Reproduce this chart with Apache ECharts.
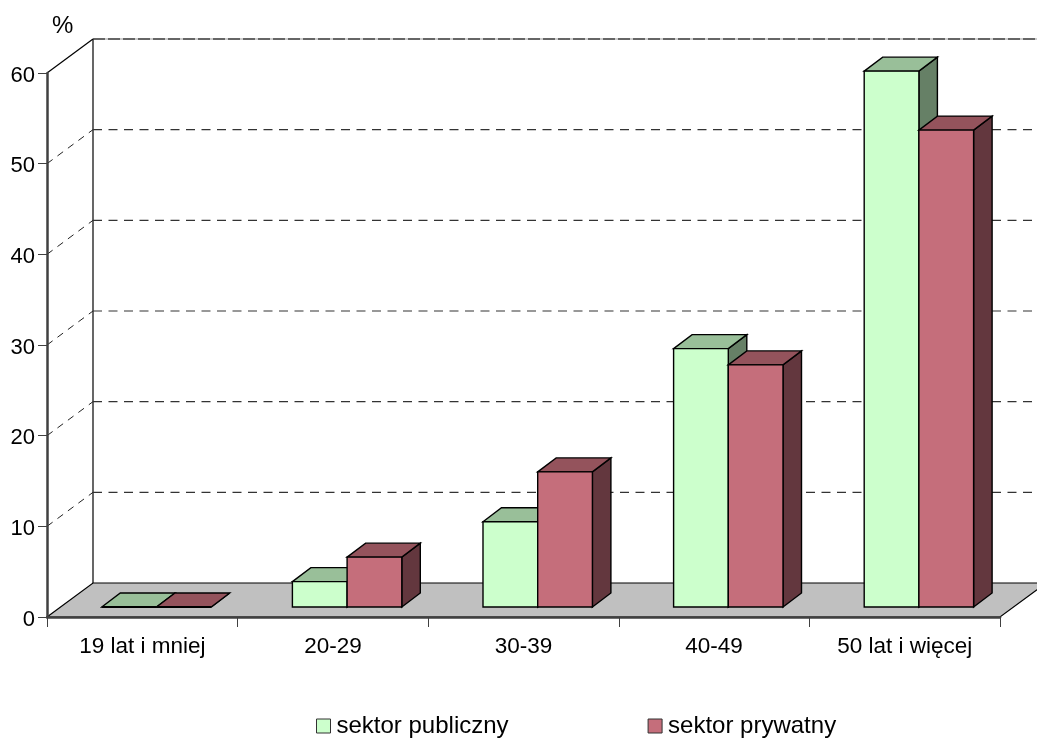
<!DOCTYPE html>
<html><head><meta charset="utf-8">
<script src="https://cdn.jsdelivr.net/npm/echarts@6/dist/echarts.min.js"></script>
<style>html,body{margin:0;padding:0;background:#fff}#c{width:1037px;height:738px}</style>
</head><body><div id="c"></div>
<script>
const categories = ['19 lat i mniej', '20-29', '30-39', '40-49', '50 lat i więcej'];
const sektorPubliczny = [0, 2.8, 9.4, 28.5, 59.1];
const sektorPrywatny = [0, 5.5, 14.9, 26.7, 52.6];
const yTicks = [0, 10, 20, 30, 40, 50, 60];

const FONT = '"Liberation Sans", Arial, sans-serif';
const WALL = [46, -34], BAR_SHIFT = [14.2, -10], BAR_DEPTH = [18.5, -14], BAR_W = 0.287;
const STROKE = {stroke: '#000', lineWidth: 1.4, lineJoin: 'miter'};

function poly(points, fill, style) {
  return {type: 'polygon', shape: {points}, style: Object.assign({fill}, STROKE, style || {})};
}
function line(a, b, style) {
  return {type: 'line', shape: {x1: a[0], y1: a[1], x2: b[0], y2: b[1]}, style: Object.assign({stroke: '#000', lineWidth: 1, fill: null}, style)};
}
function renderWall(params, api) {
  const v = api.value(0), p = api.coord([0, v]);
  const left = api.coord([0, 0])[0] - api.size([1, 0])[0] / 2;
  const right = left + api.size([1, 0])[0] * categories.length;
  const a = [left, p[1]], b = [left + WALL[0], p[1] + WALL[1]], c = [right + WALL[0], b[1]];
  const kids = [];
  if (v === 0) {
    kids.push(poly([a, b, c, [right, p[1]]], '#C0C0C0', {stroke: '#000', lineWidth: 1.2}));
    const top = api.coord([0, 60])[1] + WALL[1];
    kids.push(line(b, [b[0], top], {lineWidth: 1.2}));
  } else if (v === 60) {
    kids.push(line(a, b, {lineWidth: 1.2}));
    kids.push(line(b, c, {stroke: '#999', lineWidth: 1}));
    kids.push(line(b, c, {stroke: '#000', lineWidth: 1.2, lineDash: [12, 3]}));
  } else {
    kids.push(line(a, b, {lineDash: [7, 6], stroke: '#222'}));
    kids.push(line(b, c, {lineDash: [9, 6.5], stroke: '#333', lineWidth: 1.2}));
  }
  return {type: 'group', children: kids};
}
function barRenderer(side, front, top, right) {
  return function (params, api) {
    const cat = api.value(0), val = api.value(1);
    const band = api.size([1, 0])[0], w = band * BAR_W;
    const base = api.coord([cat, 0]), head = api.coord([cat, val]);
    const x0 = base[0] + BAR_SHIFT[0] + (side === 0 ? -w : 0), x1 = x0 + w;
    const yb = base[1] + BAR_SHIFT[1], yt = head[1] + BAR_SHIFT[1];
    const dx = BAR_DEPTH[0], dy = BAR_DEPTH[1];
    const kids = [
      poly([[x1, yb], [x1 + dx, yb + dy], [x1 + dx, yt + dy], [x1, yt]], right),
      poly([[x0, yt], [x0 + dx, yt + dy], [x1 + dx, yt + dy], [x1, yt]], top)
    ];
    if (val > 0) kids.push(poly([[x0, yb], [x1, yb], [x1, yt], [x0, yt]], front));
    else kids.push(line([x0, yb], [x1, yb], {lineWidth: 2}));
    return {type: 'group', children: kids};
  };
}

const chart = echarts.init(document.getElementById('c'), null, {renderer: 'canvas'});
chart.setOption({
  animation: false,
  backgroundColor: '#fff',
  textStyle: {fontFamily: FONT},
  grid: {left: 47, top: 73, width: 953, height: 544, containLabel: false},
  legend: {
    left: 311, top: 709, itemWidth: 14, itemHeight: 14, itemGap: 139, icon: 'rect',
    itemStyle: {borderColor: '#333', borderWidth: 1},
    textStyle: {fontFamily: FONT, fontSize: 24, color: '#000', padding: [0, 0, 0, 1]},
    data: ['sektor publiczny', 'sektor prywatny']
  },
  xAxis: {
    type: 'category', data: categories, z: 5,
    axisLine: {show: true, lineStyle: {color: '#404040', width: 2.5}},
    axisTick: {show: true, length: 10, lineStyle: {color: '#404040', width: 1}},
    axisLabel: {color: '#000', fontSize: 22.5, fontFamily: FONT, margin: 18, interval: 0},
    splitLine: {show: false}
  },
  yAxis: {
    type: 'value', min: 0, max: 60, interval: 10, z: 5,
    name: '%', nameLocation: 'end', nameGap: 35,
    nameTextStyle: {color: '#000', fontSize: 24, fontFamily: FONT, align: 'left', padding: [0, 0, 0, 5]},
    axisLine: {show: true, lineStyle: {color: '#404040', width: 2.5}},
    axisTick: {show: true, length: 9, lineStyle: {color: '#404040', width: 1}},
    axisLabel: {
      color: '#000', fontFamily: FONT, margin: 12, formatter: '{t|{value}}',
      rich: {t: {color: '#000', fontFamily: FONT, fontSize: 22, padding: [5, 0, 0, 0]}}
    },
    splitLine: {show: false}
  },
  series: [
    {type: 'custom', name: 'wall', silent: true, clip: false, z: 1, renderItem: renderWall,
     data: yTicks.map(v => [v]), encode: {x: -1, y: 0}},
    {type: 'custom', name: 'sektor publiczny', clip: false, z: 2,
     itemStyle: {color: '#CCFFCC'},
     renderItem: barRenderer(0, '#CCFFCC', '#99BF99', '#668066'),
     data: sektorPubliczny.map((v, i) => [i, v]), encode: {x: 0, y: 1}},
    {type: 'custom', name: 'sektor prywatny', clip: false, z: 3,
     itemStyle: {color: '#C56E7B'},
     renderItem: barRenderer(1, '#C56E7B', '#94535C', '#63373E'),
     data: sektorPrywatny.map((v, i) => [i, v]), encode: {x: 0, y: 1}}
  ]
});
</script></body></html>
